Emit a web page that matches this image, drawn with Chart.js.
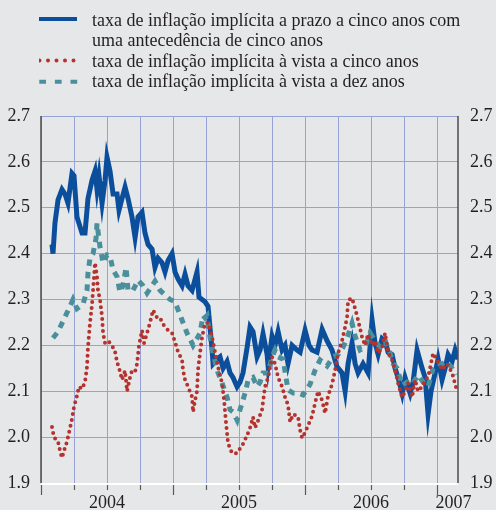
<!DOCTYPE html>
<html>
<head>
<meta charset="utf-8">
<script src="https://cdn.jsdelivr.net/npm/chart.js@4"></script>
<style>
  body { margin: 0; background: #e6e7e9; }
  #caixa { position: relative; width: 496px; height: 510px; }
  #legenda { position: absolute; left: 39px; top: 10px; font-family: 'Liberation Serif', 'Times New Roman', serif; font-size: 18px; line-height: 20.3px; color: #231f20; }
  .item { display: flex; align-items: flex-start; }
  .item svg { width: 53px; height: 20.3px; flex: none; }
</style>
</head>
<body>
<div id="caixa">
  <canvas id="grafico" width="496" height="510"></canvas>
  <div id="legenda">
    <div class="item"><svg><line x1="0" y1="9" x2="38" y2="9" stroke="#0b4f9c" stroke-width="4"/></svg><span>taxa de inflação implícita a prazo a cinco anos com<br>uma antecedência de cinco anos</span></div>
    <div class="item"><svg><line x1="0.5" y1="9.5" x2="35" y2="9.5" stroke="#b5332e" stroke-width="4" stroke-linecap="round" stroke-dasharray="0 8.5"/></svg><span>taxa de inflação implícita à vista a cinco anos</span></div>
    <div class="item"><svg><line x1="0.3" y1="10.8" x2="38.5" y2="10.8" stroke="#4a8f9b" stroke-width="4" stroke-dasharray="6.7 8.9"/></svg><span>taxa de inflação implícita à vista a dez anos</span></div>
  </div>
</div>
<script>
// x = meses desde janeiro de 2004
const prazo5a5 = [
  [1.0,2.42],[1.09,2.40],[1.27,2.467],[1.55,2.517],[1.91,2.54],[2.18,2.53],[2.45,2.51],[2.82,2.575],[3.0,2.57],[3.27,2.48],
  [3.73,2.445],[4.0,2.445],[4.27,2.52],[4.64,2.56],[4.91,2.58],[5.09,2.54],[5.27,2.57],[5.55,2.51],[5.82,2.56],[6.0,2.61],
  [6.27,2.58],[6.55,2.53],[6.91,2.53],[7.09,2.495],[7.36,2.52],[7.64,2.545],[7.91,2.52],[8.27,2.48],[8.55,2.435],[8.82,2.48],
  [9.18,2.49],[9.45,2.445],[9.73,2.42],[10.09,2.41],[10.36,2.37],[10.64,2.39],[11.0,2.38],[11.27,2.36],[11.55,2.385],[11.91,2.40],
  [12.18,2.36],[12.45,2.345],[12.82,2.33],[13.09,2.355],[13.36,2.33],[13.73,2.32],[14.18,2.36],[14.36,2.305],[14.64,2.30],[14.91,2.295],
  [15.18,2.285],[15.55,2.19],[15.64,2.16],[16.0,2.17],[16.27,2.175],[16.55,2.15],[16.91,2.165],[17.18,2.14],[17.45,2.13],[17.82,2.11],
  [18.09,2.12],[18.36,2.14],[18.73,2.195],[19.0,2.24],[19.27,2.23],[19.64,2.175],[19.91,2.19],[20.18,2.225],[20.55,2.18],[20.64,2.155],
  [21.0,2.22],[21.27,2.20],[21.55,2.23],[21.91,2.19],[22.18,2.20],[22.45,2.16],[22.82,2.20],[23.27,2.19],[23.55,2.185],[24.0,2.233],
  [24.36,2.20],[24.64,2.19],[25.09,2.185],[25.55,2.235],[26.0,2.21],[26.45,2.19],[26.91,2.153],[27.36,2.14],[27.64,2.10],[27.91,2.16],
  [28.27,2.205],[28.55,2.16],[28.82,2.14],[29.27,2.16],[29.73,2.14],[30.09,2.255],[30.36,2.205],[30.64,2.18],[31.0,2.215],[31.27,2.21],
  [31.55,2.185],[31.91,2.18],[32.18,2.15],[32.45,2.13],[32.82,2.095],[33.09,2.13],[33.55,2.095],[33.82,2.12],[34.18,2.19],[34.64,2.15],
  [34.91,2.13],[35.18,2.05],[35.45,2.10],[35.82,2.14],[36.09,2.17],[36.45,2.125],[36.73,2.15],[37.0,2.18],[37.36,2.165],[37.64,2.19],[37.91,2.17]
];
const vista5 = [
  [1.0,2.022],[1.18,2.0],[1.55,1.99],[1.73,1.97],[1.91,1.955],[2.09,1.97],[2.36,1.99],[2.55,2.01],[2.82,2.04],[3.0,2.066],
  [3.27,2.09],[3.45,2.11],[3.73,2.105],[4.0,2.12],[4.18,2.153],[4.27,2.196],[4.45,2.248],[4.64,2.29],[4.82,2.35],[4.91,2.38],
  [5.09,2.35],[5.18,2.32],[5.36,2.30],[5.55,2.262],[5.64,2.227],[5.82,2.205],[6.09,2.21],[6.45,2.20],[6.73,2.186],[6.91,2.164],
  [7.18,2.143],[7.36,2.125],[7.64,2.145],[7.82,2.10],[8.09,2.13],[8.27,2.145],[8.55,2.143],[8.73,2.16],[8.91,2.20],[9.18,2.233],
  [9.36,2.205],[9.64,2.227],[9.91,2.25],[10.18,2.277],[10.55,2.26],[10.82,2.26],[11.09,2.246],[11.55,2.233],[11.91,2.227],[12.18,2.207],
  [12.45,2.186],[12.82,2.168],[12.91,2.146],[13.09,2.125],[13.36,2.11],[13.73,2.088],[13.82,2.055],[14.0,2.08],[14.18,2.10],[14.27,2.146],
  [14.45,2.183],[14.64,2.218],[14.91,2.248],[15.18,2.25],[15.55,2.218],[15.82,2.185],[16.09,2.153],[16.45,2.118],[16.64,2.08],[16.82,2.03],
  [17.0,1.987],[17.36,1.965],[17.82,1.965],[18.09,1.975],[18.36,1.985],[18.73,2.004],[19.0,2.02],[19.27,2.044],[19.45,2.02],[19.73,2.036],
  [20.09,2.06],[20.36,2.11],[20.64,2.13],[21.0,2.175],[21.27,2.16],[21.55,2.13],[21.91,2.11],[22.18,2.087],[22.45,2.07],[22.64,2.033],
  [22.91,2.05],[23.36,2.045],[23.55,2.015],[23.73,1.998],[24.0,2.01],[24.27,2.025],[24.64,2.046],[24.91,2.074],[25.18,2.10],[25.55,2.08],
  [25.82,2.052],[26.09,2.09],[26.45,2.115],[26.73,2.146],[27.0,2.183],[27.36,2.21],[27.64,2.24],[27.82,2.262],[27.91,2.298],[28.27,2.303],
  [28.55,2.28],[28.82,2.255],[29.18,2.218],[29.45,2.20],[29.73,2.225],[30.09,2.20],[30.36,2.21],[30.64,2.183],[31.0,2.196],[31.27,2.227],
  [31.55,2.183],[31.91,2.168],[32.18,2.147],[32.45,2.118],[32.82,2.087],[33.09,2.10],[33.36,2.118],[33.73,2.087],[34.0,2.125],[34.27,2.10],
  [34.64,2.11],[34.91,2.125],[35.18,2.13],[35.64,2.183],[36.0,2.168],[36.45,2.147],[36.91,2.16],[37.36,2.14],[37.82,2.10]
];
const vista10 = [
  [1.09,2.216],[1.55,2.23],[2.18,2.262],[2.64,2.285],[2.91,2.30],[3.27,2.28],[3.82,2.29],[4.18,2.32],[4.27,2.357],[4.45,2.39],
  [4.73,2.40],[5.0,2.433],[5.09,2.466],[5.36,2.415],[5.64,2.38],[6.0,2.397],[6.27,2.395],[6.55,2.364],[6.91,2.35],[7.18,2.316],
  [7.45,2.33],[7.73,2.37],[7.91,2.32],[8.36,2.32],[8.82,2.342],[9.27,2.33],[9.64,2.314],[10.09,2.33],[10.36,2.34],[10.82,2.32],
  [11.27,2.31],[11.73,2.30],[12.18,2.295],[12.64,2.266],[13.27,2.227],[13.82,2.20],[14.18,2.215],[14.45,2.227],[14.73,2.265],[14.91,2.26],
  [15.09,2.265],[15.36,2.218],[15.64,2.183],[16.0,2.146],[16.45,2.118],[16.91,2.087],[17.18,2.06],[17.45,2.055],[17.82,2.037],[18.09,2.06],
  [18.55,2.096],[18.82,2.124],[19.27,2.13],[19.64,2.11],[19.91,2.12],[20.18,2.14],[20.64,2.14],[21.0,2.175],[21.27,2.19],[21.55,2.175],
  [22.0,2.17],[22.45,2.103],[22.91,2.096],[23.36,2.096],[23.82,2.092],[24.45,2.115],[24.91,2.146],[25.36,2.168],[26.0,2.155],[26.55,2.175],
  [27.0,2.18],[27.45,2.196],[27.91,2.222],[28.27,2.248],[28.55,2.22],[29.0,2.19],[29.45,2.196],[29.91,2.227],[30.36,2.21],[30.82,2.196],
  [31.27,2.21],[31.73,2.183],[32.0,2.16],[32.36,2.15],[32.82,2.113],[33.27,2.12],[33.73,2.115],[34.27,2.135],[34.73,2.12],[35.18,2.11],
  [35.64,2.15],[36.0,2.16],[36.45,2.16],[36.91,2.165],[37.36,2.15],[37.64,2.135]
];

const anos = ['2004', '2005', '2006', '2007'];
const posAnos = [6, 18, 30, 37.5];
const trimestres = [0, 3, 6, 9, 12, 15, 18, 21, 24, 27, 30, 33, 36];
const yMin = 1.9, yMax = 2.7;

const fonteEixo = { family: "'Liberation Serif', 'Times New Roman', serif", size: 18 };
const corGrelha = '#97a3d8';

const pontos = arr => arr.map(p => ({ x: p[0], y: p[1] }));

const eixos = {
  id: 'eixos',
  afterDraw(chart) {
    const { ctx, chartArea: a, scales: { x } } = chart;
    ctx.save();
    ctx.strokeStyle = '#4d4d4f';
    ctx.lineWidth = 1.5;
    ctx.beginPath();
    ctx.moveTo(a.left, a.top); ctx.lineTo(a.left, a.bottom);
    ctx.moveTo(a.right, a.top); ctx.lineTo(a.right, a.bottom);
    ctx.stroke();
    ctx.strokeStyle = '#ffffff';
    ctx.lineWidth = 2;
    ctx.beginPath();
    ctx.moveTo(a.left, a.bottom + 1); ctx.lineTo(a.right, a.bottom + 1);
    ctx.stroke();
    ctx.strokeStyle = '#58595b';
    ctx.lineWidth = 1.2;
    ctx.beginPath();
    trimestres.forEach(m => {
      const px = Math.round(x.getPixelForValue(m)) + 0.5;
      const len = m % 12 === 0 ? 10 : 5;
      ctx.moveTo(px, a.bottom + 2); ctx.lineTo(px, a.bottom + 2 + len);
    });
    ctx.stroke();
    ctx.restore();
  }
};

const ctx = document.getElementById('grafico').getContext('2d');
const grafico = new Chart(ctx, {
  type: 'line',
  data: {
    datasets: [
      {
        label: 'taxa de inflação implícita a prazo a cinco anos com uma antecedência de cinco anos',
        data: pontos(prazo5a5),
        borderColor: '#0b4f9c',
        borderWidth: 5,
        borderJoinStyle: 'miter',
        order: 3
      },
      {
        label: 'taxa de inflação implícita à vista a dez anos',
        data: pontos(vista10),
        borderColor: '#4a8f9b',
        borderWidth: 5,
        borderDash: [6.5, 6],
        order: 2
      },
      {
        label: 'taxa de inflação implícita à vista a cinco anos',
        data: pontos(vista5),
        borderColor: '#b5332e',
        borderWidth: 4,
        borderDash: [0, 6],
        borderCapStyle: 'round',
        order: 1
      }
    ]
  },
  options: {
    responsive: false,
    animation: false,
    layout: { padding: { top: 116, left: 0, right: 0, bottom: 0 } },
    elements: { point: { radius: 0 }, line: { tension: 0 } },
    plugins: { legend: { display: false }, tooltip: { enabled: false } },
    scales: {
      x: {
        type: 'linear',
        min: 0,
        max: 37.9,
        afterBuildTicks: s => { s.ticks = trimestres.concat([37.5]).map(v => ({ value: v })); },
        afterFit: s => { s.height = 27; },
        border: { display: false },
        grid: {
          color: c => (c.tick && c.tick.value === 37.5) ? 'rgba(0,0,0,0)' : corGrelha,
          lineWidth: 1,
          drawTicks: false
        },
        ticks: {
          autoSkip: false,
          maxRotation: 0,
          padding: 9,
          color: '#231f20',
          font: fonteEixo,
          callback: v => { const i = posAnos.indexOf(v); return i >= 0 ? anos[i] : ''; }
        }
      },
      y: {
        position: 'left',
        min: yMin,
        max: yMax,
        afterFit: s => { s.width = 41; },
        border: { display: false },
        grid: { color: corGrelha, lineWidth: 1, drawTicks: false },
        ticks: { stepSize: 0.1, padding: 11, color: '#231f20', font: fonteEixo, callback: v => v.toFixed(1) }
      },
      y2: {
        position: 'right',
        min: yMin,
        max: yMax,
        afterFit: s => { s.width = 38; },
        border: { display: false },
        grid: { display: false, drawTicks: false },
        ticks: { stepSize: 0.1, padding: 12, color: '#231f20', font: fonteEixo, callback: v => v.toFixed(1) }
      }
    }
  },
  plugins: [eixos]
});
</script>
</body>
</html>
